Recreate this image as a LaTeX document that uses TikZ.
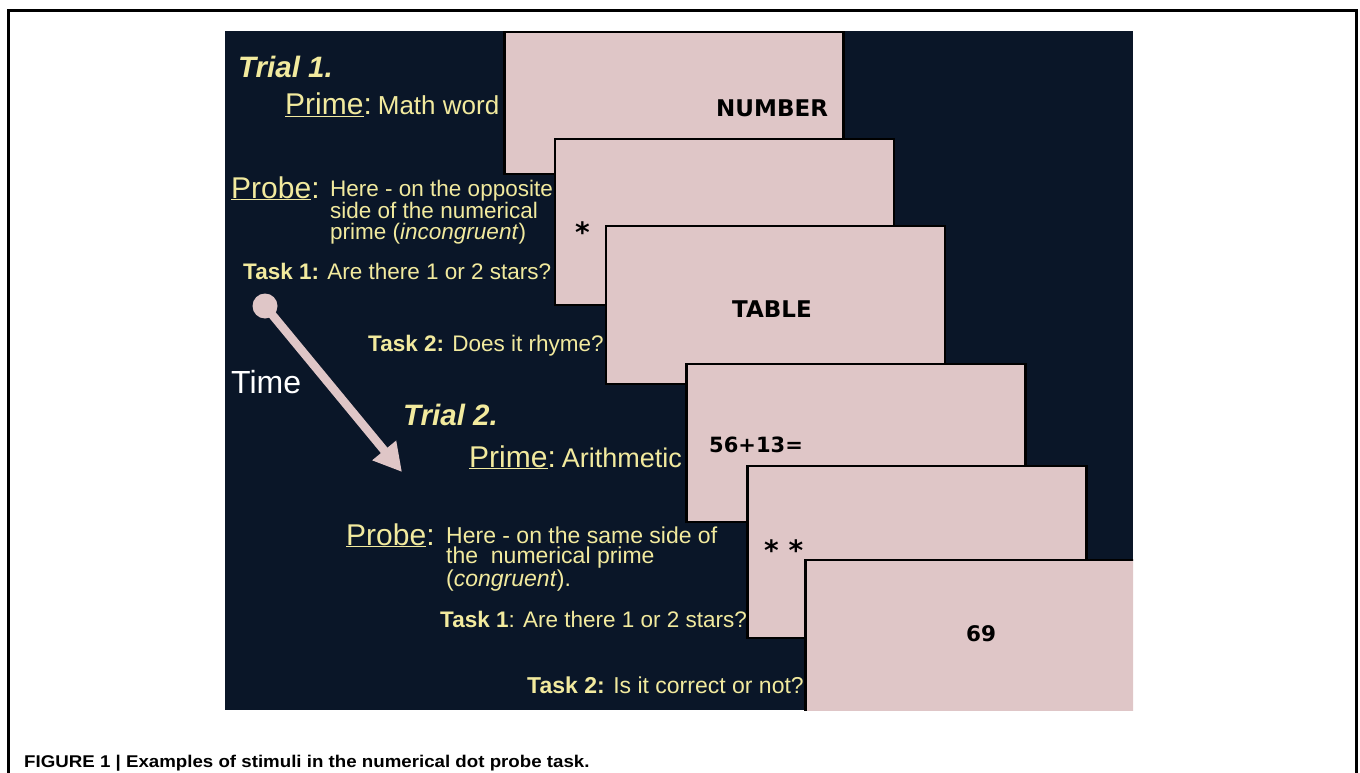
\documentclass[tikz,border=0pt]{standalone}
\usepackage{fontspec}
\setmainfont{Liberation Sans}
\newfontfamily\heavyfont{DejaVu Sans}
\usepackage{tikz}
\usetikzlibrary{arrows.meta,positioning}
\definecolor{slide}{HTML}{0A1628}
\definecolor{card}{HTML}{DFC6C7}
\definecolor{ink}{HTML}{F2EA9E}
\newcommand{\fsz}[1]{\fontsize{#1}{#1}\selectfont}
\tikzstyle{txt}=[
	anchor=base west,
	inner sep=0pt,
	text=ink,
	font=\fsz{22.5}
]
\tikzstyle{block}=[
	txt,
	align=left,
	font=\fontsize{22.5}{20.5}\selectfont
]
\tikzstyle{title}=[
	txt,
	font=\fsz{29.5}\bfseries\itshape
]
\tikzstyle{cardbox}=[
	rectangle,
	draw=black,
	fill=card,
	line width=2.5pt,
	inner sep=0pt,
	minimum width=339pt
]
\tikzstyle{cardtxt}=[
	anchor=base west,
	inner sep=0pt,
	text=black,
	font=\heavyfont\fsz{23}\bfseries
]
\begin{document}
\begin{tikzpicture}[x=1pt,y=-1pt]
\useasboundingbox (0,0) rectangle (1360,773);
\draw[line width=3pt] (8,773) -- (8,11) -- (1356,11) -- (1356,773);
\fill[slide] (225,31) rectangle (1133,710);

% stimulus screens
\begin{scope}
\clip (225,31) rectangle (1133,710);
\node[cardbox, minimum height=142pt] (c1) at (674,103) {};
\node[cardtxt] (w1) at (716,117) {NUMBER};
\node[cardbox, minimum height=166pt] (c2) at (724.5,222) {};
\node[cardtxt, font=\heavyfont\fsz{28}\bfseries] (w2) at (575,242) {*};
\node[cardbox, minimum height=158pt] (c3) at (775.5,305) {};
\node[cardtxt] (w3) at (732,317) {TABLE};
\node[cardbox, minimum height=158pt] (c4) at (856,443) {};
\node[cardtxt, font=\heavyfont\fsz{21}\bfseries] (w4) at (709,452) {56+13=};
\node[cardbox, minimum height=172pt] (c5) at (917,552) {};
\node[cardtxt, font=\heavyfont\fsz{28}\bfseries] (w5) at (764,560) {* *};
\node[cardbox, minimum height=160pt] (c6) at (975,640) {};
\node[cardtxt, font=\heavyfont\fsz{21.5}\bfseries] (w6) at (966,641) {69};
\end{scope}

% trial 1
\node[title] (t1) at (238,78) {Trial 1.};
\node[txt] (p1) at (285,115) {{\fsz{30}\underline{Prime}:}\hspace{6pt}{\fsz{26}Math word}};
\node[txt] (q1) at (231,198) {\fsz{30}\underline{Probe}:};
\node[block] (q1a) at (330,239) {Here - on the opposite\\side of the numerical\\prime (\textit{incongruent})};
\node[txt] (k11) at (243,279) {\textbf{Task 1:} Are there 1 or 2 stars?};
\node[txt] (k12) at (368,351) {\textbf{Task 2:} Does it rhyme?};

% time arrow
\node[circle, fill=card, minimum size=25pt, inner sep=0pt] (dot) at (265,306) {};
\coordinate (tip) at (402,472);
\draw[card, line width=8.5pt, -{Triangle[width=29pt,length=28pt]}] (dot.center) -- (tip);
\node[anchor=base west, inner sep=0pt, text=white, font=\fsz{32}] (time) at (231,393) {Time};

% trial 2
\node[title] (t2) at (403,425) {Trial 2.};
\node[txt] (p2) at (469,467) {{\fsz{30}\underline{Prime}:}\hspace{6pt}{\fsz{27}Arithmetic}};
\node[txt] (q2) at (346,545) {\fsz{30}\underline{Probe}:};
\node[block, font=\fontsize{23}{20.5}\selectfont] (q2a) at (446,586) {Here - on the same side of\\the\ \ numerical prime\\(\textit{congruent}).};
\node[txt] (k21) at (440,627) {\textbf{Task 1}: Are there 1 or 2 stars?};
\node[txt, font=\fsz{23}] (k22) at (527,693) {\textbf{Task 2:} Is it correct or not?};

% caption
\node[anchor=base west, inner sep=0pt, font=\fsz{17}\bfseries] (cap) at (24,767)
  {\scalebox{1.1}[1]{FIGURE 1 | Examples of stimuli in the numerical dot probe task.}};
\end{tikzpicture}
\end{document}
